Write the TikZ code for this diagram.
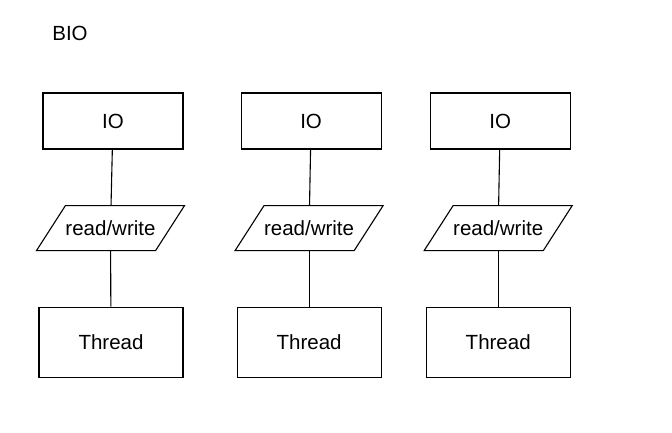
\documentclass[tikz,border=0pt]{standalone}
\usepackage{fontspec}
\setmainfont{Liberation Sans}
\usepackage{tikz}
\usetikzlibrary{positioning}
\tikzstyle{kasten} = [rectangle, draw=black, line width=1.1pt, minimum width=140pt, minimum height=56pt, inner sep=0pt]
\tikzstyle{tkasten} = [rectangle, draw=black, line width=1.1pt, minimum width=144pt, minimum height=70pt, inner sep=0pt]
\tikzstyle{para} = [rectangle, minimum width=118pt, minimum height=44pt, inner sep=0pt, outer sep=0.55pt]
\tikzstyle{linie} = [line width=1.1pt]

\begin{document}
\begin{tikzpicture}[x=1pt, y=-1pt, node distance=56pt, font=\fontsize{20.5}{24}\selectfont]
    	\useasboundingbox (0,0) rectangle (672,432);

    	\node (0) at (70,33) {BIO};

    	\node [kasten] (11) at (113,121) {IO};
    	\node [kasten, right=57pt of 11] (12) {IO};
    	\node [kasten, right=48pt of 12] (13) {IO};

    	\node [para, below=of 11, xshift=-2.5pt] (21) {read/write};
    	\node [para, below=of 12, xshift=-2pt] (22) {read/write};
    	\node [para, below=of 13, xshift=-2pt] (23) {read/write};

    	% schraege Kanten
    	\draw[linie] ([xshift=14.5pt]21.north west) -- ([xshift=14.5pt]21.north east) -- ([xshift=-14.5pt]21.south east) -- ([xshift=-14.5pt]21.south west) -- cycle;
    	\draw[linie] ([xshift=14.5pt]22.north west) -- ([xshift=14.5pt]22.north east) -- ([xshift=-14.5pt]22.south east) -- ([xshift=-14.5pt]22.south west) -- cycle;
    	\draw[linie] ([xshift=14.5pt]23.north west) -- ([xshift=14.5pt]23.north east) -- ([xshift=-14.5pt]23.south east) -- ([xshift=-14.5pt]23.south west) -- cycle;

    	\node [tkasten, below=of 21, xshift=0.5pt] (31) {Thread};
    	\node [tkasten, below=of 22] (32) {Thread};
    	\node [tkasten, below=of 23] (33) {Thread};

    	\draw[linie] (11) -- (21);
    	\draw[linie] (12) -- (22);
    	\draw[linie] (13) -- (23);

    	\draw[linie] (21) -- (31);
    	\draw[linie] (22) -- (32);
    	\draw[linie] (23) -- (33);

    \end{tikzpicture}
\end{document}
